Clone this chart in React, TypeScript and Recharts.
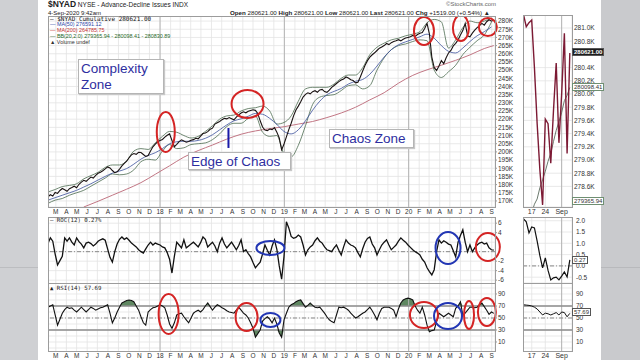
import React from "react";
import {
  Area,
  CartesianGrid,
  ComposedChart,
  Line,
  ReferenceDot,
  ReferenceLine,
  XAxis,
  YAxis,
} from "recharts";

// weekly readings, week 0 = 6 Feb 2017, values in thousands
const adLine = [
  172.5, 173.8, 173.0, 175.2, 174.6, 176.4, 177.6, 176.8, 175.9, 177.5,
  178.2, 179.0, 178.1, 180.2, 181.5, 182.6, 182.0, 183.4, 184.6, 184.0,
  185.6, 186.9, 187.6, 188.5, 189.6, 190.8, 190.2, 188.6, 187.3, 187.8,
  189.5, 191.4, 193.0, 194.3, 196.4, 198.2, 199.0, 198.5, 199.8, 199.6,
  198.4, 197.2, 197.8, 200.6, 203.1, 204.8, 206.2, 206.9, 207.6, 209.0,
  210.2, 211.0, 207.0, 203.2, 204.6, 206.3, 207.4, 206.6, 205.9, 206.4,
  207.1, 207.5, 208.3, 208.0, 209.6, 211.2, 211.6, 212.4, 213.8, 214.5,
  217.0, 217.8, 218.6, 219.7, 220.5, 220.2, 221.0, 220.3, 219.6, 221.2,
  222.6, 223.8, 224.5, 223.9, 224.8, 225.3, 225.8, 225.4, 223.5, 219.0,
  215.2, 213.4, 213.0, 214.0, 213.6, 214.8, 212.0, 208.6, 201.2, 204.8,
  209.2, 213.6, 217.5, 222.0, 225.6, 228.0, 230.6, 233.5, 235.2, 236.1,
  235.5, 236.8, 237.4, 236.5, 237.9, 238.2, 236.9, 236.4, 237.8, 239.5,
  240.6, 241.8, 243.0, 243.9, 244.6, 245.8, 245.2, 244.1, 243.6, 242.2,
  242.6, 245.8, 249.5, 253.0, 255.8, 257.9, 259.4, 260.6, 262.0, 263.4,
  264.2, 265.0, 266.3, 265.6, 266.8, 267.5, 268.0, 268.6, 267.9, 268.9,
  269.6, 270.0, 270.4, 271.2, 270.6, 271.8, 272.6, 273.0, 275.5, 278.6,
  272.0, 258.0, 251.5, 249.8, 252.5, 255.8, 254.0, 257.6, 260.5, 262.0,
  264.8, 266.4, 268.5, 271.5, 274.2, 278.6, 271.0, 270.4, 272.6, 274.4,
  276.0, 277.2, 278.6, 277.5, 279.6, 280.8, 279.9, 280.6,
];

const rocWeekly = [
  1.8, 2.9, 2.2, -0.5, -2.8, -1.9, -1.0, 2.9, 2.2, 2.9,
  2.0, 1.4, 2.9, 2.1, 1.6, 0.8, 1.8, 2.0, 1.7, 1.2,
  1.6, 2.2, 2.5, 2.7, 2.4, 0.6, -1.2, -2.2, 0.0, 1.6,
  2.6, 3.1, 2.6, 2.9, 2.4, 1.8, 1.4, 1.0, 0.4, 0.0,
  -0.3, 0.6, 1.4, 2.0, 1.4, 1.8, 1.6, 1.4, 1.0, 0.8,
  -0.2, -1.6, -4.5, -1.0, 2.0, 1.4, 0.8, 2.5, 0.8, 1.2,
  1.6, 2.0, 1.5, 1.0, 1.9, 3.1, 2.6, 1.0, 1.5, 2.0,
  1.2, 0.0, 1.8, 2.9, 1.6, 0.8, 1.4, 2.0, 1.2, 0.4,
  1.3, 2.5, 0.0, 0.4, -0.4, -1.1, -2.3, -3.4, -2.8, -2.2,
  -0.5, 1.4, 0.3, -0.7, 1.2, 2.5, 0.5, -3.0, -5.8, -1.0,
  6.3, 5.0, 3.2, 2.8, 3.0, 3.5, 3.1, 1.4, -0.7, 0.4,
  1.0, 1.4, 2.3, 2.9, 2.2, 1.8, 1.0, 0.4, 0.2, 0.0,
  0.8, 1.4, 0.3, -0.7, 1.0, 2.5, 1.8, 1.4, 1.2, 0.8,
  -0.2, -1.1, 0.6, 2.0, 2.8, 3.1, 1.6, 0.8, -0.7, 0.4,
  1.4, 2.0, 2.5, 1.4, 0.4, 0.9, 1.4, 2.2, 2.9, 2.4,
  2.0, 1.4, 0.9, 0.4, 0.0, -0.3, -0.7, -1.6, -2.2, -3.4,
  -4.2, -4.9, -3.8, 0.0, 2.5, 1.8, 2.3, 2.0, 1.6, 1.4,
  0.2, -1.1, 2.0, 3.4, 4.6, 2.0, 0.0, 1.4, 0.0, 0.8,
  1.4, 1.8, 2.0, 1.6, 1.8, 0.8, 0.4, 0.3,
];

const rsiWeekly = [
  68, 70, 72, 55, 38, 48, 58, 64, 68, 66,
  67, 63, 60, 64, 68, 64, 60, 64, 68, 66,
  63, 65, 67, 68, 70, 72, 58, 42, 50, 60,
  68, 75, 77, 79, 80, 79, 77, 70, 63, 52,
  42, 38, 60, 64, 67, 68, 70, 72, 70, 67,
  55, 40, 33, 42, 55, 57, 58, 52, 47, 42,
  50, 58, 61, 63, 60, 64, 70, 75, 69, 63,
  68, 72, 70, 67, 65, 62, 60, 59, 58, 63,
  68, 63, 58, 55, 50, 42, 33, 18, 24, 30,
  45, 49, 52, 48, 42, 50, 40, 25, 18, 47,
  58, 68, 72, 74, 77, 79, 80, 74, 68, 71,
  75, 71, 68, 67, 68, 63, 58, 52, 47, 44,
  42, 55, 68, 67, 68, 66, 63, 58, 54, 50,
  52, 55, 58, 60, 64, 68, 62, 55, 47, 58,
  66, 68, 68, 68, 66, 63, 52, 65, 75, 80,
  82, 83, 82, 80, 70, 63, 58, 68, 55, 38,
  27, 29, 30, 44, 58, 55, 52, 55, 58, 55,
  52, 66, 70, 77, 55, 58, 63, 68, 68, 67,
  68, 72, 75, 69, 63, 56, 60, 57.7,
];

// every third week
const ma50 = [
  170.5, 172.0, 173.5, 175.0, 176.5, 178.5, 180.5, 182.8, 185.0, 187.0,
  188.3, 189.8, 192.5, 195.6, 197.8, 199.5, 202.0, 205.0, 206.2, 206.5,
  206.5, 207.0, 208.3, 210.5, 213.5, 216.5, 219.0, 220.2, 221.8, 223.5,
  223.0, 220.5, 216.8, 212.5, 211.0, 213.5, 219.0, 225.5, 231.0, 235.0,
  237.0, 238.8, 241.5, 243.2, 244.3, 247.5, 252.5, 258.0, 262.5, 265.5,
  267.3, 268.8, 270.4, 272.0, 269.5, 265.0, 261.5, 260.5, 263.5, 267.5,
  271.0, 273.5, 276.4,
];
const bbUpper = [
  175.5, 177.0, 178.8, 179.5, 180.5, 183.5, 185.5, 187.5, 190.5, 192.0,
  192.0, 194.5, 200.5, 202.0, 201.5, 205.5, 209.5, 212.5, 212.0, 210.0,
  208.5, 209.5, 212.5, 216.0, 220.0, 222.0, 222.5, 225.0, 226.5, 227.0,
  228.0, 225.0, 217.0, 218.0, 222.0, 231.0, 238.5, 239.5, 239.5, 239.5,
  241.5, 245.0, 247.0, 247.0, 251.5, 259.5, 264.0, 266.5, 268.5, 269.5,
  271.0, 272.0, 273.5, 279.0, 281.0, 279.5, 263.5, 268.5, 276.0, 280.0,
  279.0, 280.0, 281.8,
];
const bbLower = [
  168.5, 170.5, 171.5, 173.5, 175.0, 176.5, 179.0, 181.5, 184.0, 186.5,
  186.0, 186.5, 189.0, 194.0, 195.5, 195.0, 200.5, 204.5, 202.0, 202.5,
  204.5, 205.0, 205.5, 207.5, 211.0, 215.5, 217.5, 217.5, 220.5, 222.0,
  212.0, 209.5, 210.0, 199.0, 197.0, 204.0, 216.0, 229.0, 233.5, 234.5,
  235.0, 237.5, 240.5, 241.0, 238.5, 240.5, 250.0, 257.5, 262.5, 265.0,
  266.0, 267.5, 268.5, 268.0, 250.0, 245.5, 249.0, 253.0, 259.5, 264.0,
  268.0, 271.5, 279.4,
];

const ma200Weeks = [
  15, 21, 27, 33, 39, 45, 51, 57, 63, 69, 75, 81, 87, 93, 99,
  105, 111, 117, 123, 129, 135, 141, 147, 153, 159, 165, 171, 177, 183, 187,
];
const ma200 = [
  166.3, 169.8, 173.5, 177.2, 181.2, 186.3, 191.5, 196.8, 200.8, 204.2,
  207.8, 210.8, 212.8, 214.2, 215.4, 217.0, 218.6, 221.0, 223.8, 227.3,
  231.8, 236.2, 242.0, 246.8, 250.2, 253.0, 256.0, 259.3, 263.2, 265.0,
];

// last trading days, 12 Aug - 4 Sep 2020
const recentClose = [
  281.2, 281.02, 281.08, 281.12, 280.4, 279.55, 278.85, 278.32, 279.62,
  279.55, 278.95, 279.75, 280.47, 279.26, 280.0, 280.92, 279.1, 280.62,
];
const recentMid = [
  277.85, 278.0, 278.08, 278.2, 278.33, 278.41, 278.58, 278.7, 278.83,
  278.98, 279.1, 279.28, 279.45, 279.58, 279.72, 279.9, 279.98, 280.1,
];
const recentRoc = [
  2.08, 1.95, 1.46, 1.72, 1.68, 1.1, 0.45, -0.09, 0.35,
  -0.2, -0.62, -0.53, -0.5, -0.62, -0.45, -0.27, -0.49, 0.27,
];
const recentRsi = [72, 71.5, 71, 70, 68, 65, 60, 55, 58, 57, 55, 57, 59, 55, 60, 59, 52, 57.7];
const recentTicks = [3, 8, 14];
const recentTickLabels = ["17", "24", "Sep"];

const monthLetters = ["J", "F", "M", "A", "M", "J", "J", "A", "S", "O", "N", "D"];
const mainTicks = [170, 175, 180, 185, 190, 195, 200, 205, 210, 215, 220, 225, 230, 235, 240, 245, 250, 255, 260, 265, 270, 275, 280];
const recentTicksY = [278.6, 278.8, 279.0, 279.2, 279.4, 279.6, 279.8, 280.0, 280.2, 280.4, 280.8, 281.0];

const START = Date.UTC(2017, 1, 6);
const WEEK = 7 * 24 * 3600 * 1000;
const monthTicks: { t: number; label: string }[] = [];
for (let y = 2017; y <= 2020; y++) {
  for (let m = 0; m < 12; m++) {
    if ((y === 2017 && m < 2) || (y === 2020 && m > 8)) continue;
    monthTicks.push({ t: (Date.UTC(y, m, 1) - START) / WEEK, label: m === 0 ? String(y).slice(2) : monthLetters[m] });
  }
}
const yearLines = monthTicks.filter((m) => /\d/.test(m.label)).map((m) => m.t);
const monthLabel = (t: number) => monthTicks.find((m) => Math.abs(m.t - t) < 0.01)?.label ?? "";

const adRows = adLine.map((v, i) => ({ t: i, v, roc: rocWeekly[i], rsi: rsiWeekly[i] }));
const ma50Rows = ma50.map((v, k) => ({ t: k * 3, v }));
const bbRows = bbUpper.map((up, k) => ({ t: k * 3, up, lo: bbLower[k] }));
const ma200Rows = ma200Weeks.map((t, k) => ({ t, v: ma200[k] }));
const recentRows = recentClose.map((v, d) => ({ t: d, v, mid: recentMid[d], roc: recentRoc[d], rsi: recentRsi[d] }));

const RED = "#d42424";
const BLUE = "#2236b4";
const mainRings = [
  { t: 49.4, v: 212.2, rx: 9, ry: 20, c: RED },
  { t: 83.7, v: 229.3, rx: 16, ry: 14, c: RED },
  { t: 157.7, v: 273.9, rx: 10, ry: 14, c: RED },
  { t: 173.2, v: 275.7, rx: 8, ry: 13, c: RED },
  { t: 184.5, v: 276.3, rx: 9, ry: 9, c: RED },
];
const rocRings = [
  { t: 93.3, v: 0.78, rx: 14, ry: 7, c: BLUE },
  { t: 167.8, v: 0.78, rx: 12.5, ry: 16, c: BLUE },
  { t: 184.5, v: 0.99, rx: 12, ry: 14, c: RED },
];
const rsiRings = [
  { t: 50.6, v: 56.7, rx: 10, ry: 20, c: RED },
  { t: 83.3, v: 51.7, rx: 11, ry: 14, c: RED },
  { t: 93.3, v: 46.7, rx: 10, ry: 7, c: BLUE },
  { t: 157.7, v: 55, rx: 14, ry: 13, c: RED },
  { t: 167.8, v: 53.3, rx: 14, ry: 13, c: BLUE },
  { t: 176.6, v: 55, rx: 5, ry: 14, c: RED },
  { t: 184.1, v: 60, rx: 9, ry: 14, c: RED },
];

const FONT = "'Liberation Sans', Arial, sans-serif";
const tick = { fontSize: 6.5, fill: "#333", fontFamily: FONT };
const noMargin = { top: 0, right: 0, bottom: 0, left: 0 };

const ring = (rx: number, ry: number, c: string) => (p: any) => (
  <ellipse cx={p.cx} cy={p.cy} rx={rx} ry={ry} fill="none" stroke={c} strokeWidth={2} />
);

const weekAxis = (hide: boolean) => (
  <XAxis
    type="number"
    dataKey="t"
    domain={[0, 187.5]}
    ticks={monthTicks.map((m) => m.t)}
    tickFormatter={monthLabel}
    interval={0}
    tick={tick}
    tickLine={false}
    axisLine={false}
    tickSize={1}
    tickMargin={1}
    height={hide ? 0 : 12}
    hide={hide}
    allowDataOverflow
  />
);

const dayAxis = (hide: boolean) => (
  <XAxis
    type="number"
    dataKey="t"
    domain={[-0.2, 17.8]}
    ticks={recentTicks}
    tickFormatter={(t: number) => recentTickLabels[recentTicks.indexOf(t)] ?? ""}
    interval={0}
    tick={{ ...tick, fontSize: 7 }}
    tickLine={false}
    axisLine={false}
    tickSize={1}
    tickMargin={1}
    height={hide ? 0 : 12}
    hide={hide}
    allowDataOverflow
  />
);

const Box = ({ l, t, w, h }: { l: number; t: number; w: number; h: number }) => (
  <div style={{ position: "absolute", left: l, top: t, width: w, height: h, border: "1px solid #9c9c9c", boxSizing: "border-box", pointerEvents: "none" }} />
);

const Note = ({ l, t, w, h, children }: any) => (
  <div
    style={{
      position: "absolute", left: l, top: t, width: w, height: h, boxSizing: "border-box",
      background: "#fff", border: "1px solid #b5b5b5", boxShadow: "1px 1px 1px #c8c8c8",
      color: "#2e2ea0", fontFamily: FONT, fontSize: 13.5, lineHeight: "16px", padding: "1px 2px",
    }}
  >
    {children}
  </div>
);

const ValueTag = ({ t, text, dark, border }: { t: number; text: string; dark?: boolean; border?: string }) => (
  <div
    style={{
      position: "absolute", left: 572, top: t - 4, height: 8, padding: "0 1px", boxSizing: "border-box",
      background: dark ? "#1d1d1d" : "#fff", color: dark ? "#fff" : "#333", border: `1px solid ${border ?? "#555"}`,
      fontFamily: FONT, fontSize: 6, lineHeight: "6px", fontWeight: dark ? 700 : 400,
    }}
  >
    {text}
  </div>
);

export default function App() {
  return (
    <div style={{ position: "absolute", left: 0, top: 0, width: 640, height: 360, background: "#fff", overflow: "hidden", fontFamily: FONT }}>
      <div style={{ position: "absolute", left: 0, top: 0, width: 38, height: 360, background: "#cfd0d3" }} />
      <div style={{ position: "absolute", left: 0, top: 267, width: 38, height: 1, background: "#bcbdc0" }} />
      <div style={{ position: "absolute", left: 601, top: 0, width: 39, height: 360, background: "#c9cacd" }} />
      <div style={{ position: "absolute", left: 601, top: 267, width: 39, height: 1, background: "#b8b9bc" }} />

      <div style={{ position: "absolute", left: 48, top: 0, fontSize: 6.5, lineHeight: "9px", color: "#222", whiteSpace: "nowrap" }}>
        <b style={{ fontSize: 8.5 }}>$NYAD</b> NYSE - Advance-Decline Issues INDX
      </div>
      <div style={{ position: "absolute", left: 48, top: 9.5, fontSize: 6, lineHeight: "6.5px", color: "#222" }}>4-Sep-2020 9:42am</div>
      <div style={{ position: "absolute", left: 446, top: 1, fontSize: 6, lineHeight: "7px", color: "#666" }}>©StockCharts.com</div>
      <div style={{ position: "absolute", right: 150, top: 9, fontSize: 6.2, lineHeight: "7px", color: "#222", whiteSpace: "nowrap" }}>
        <b>Open</b> 280621.00 <b>High</b> 280621.00 <b>Low</b> 280621.00 <b>Last</b> 280621.00 <b>Chg</b> +1519.00 (+0.54%) ▲
      </div>

      {/* price panel */}
      <div style={{ position: "absolute", left: 48, top: 16 }}>
        <ComposedChart width={482} height={203} margin={noMargin}>
          <CartesianGrid stroke="#e3e3e3" strokeWidth={0.8} />
          {weekAxis(false)}
          <YAxis orientation="right" type="number" domain={[166.3, 283.1]} ticks={mainTicks} tickFormatter={(v: number) => `${v}K`} interval={0} width={35} tick={tick} tickSize={2} tickMargin={1} axisLine={false} tickLine={{ stroke: "#999" }} allowDataOverflow />
          {yearLines.map((t) => <ReferenceLine key={t} x={t} stroke="#b4b4b4" />)}
          <Line data={ma200Rows} dataKey="v" type="monotone" stroke="#c27684" strokeWidth={1} dot={false} isAnimationActive={false} />
          <Line data={bbRows} dataKey="up" type="monotone" stroke="#4b6b4f" strokeWidth={0.8} dot={false} isAnimationActive={false} />
          <Line data={bbRows} dataKey="lo" type="monotone" stroke="#4b6b4f" strokeWidth={0.8} dot={false} isAnimationActive={false} />
          <Line data={ma50Rows} dataKey="v" type="monotone" stroke="#3a4f9a" strokeWidth={0.8} dot={false} isAnimationActive={false} />
          <Line data={adRows} dataKey="v" type="linear" stroke="#1a1212" strokeWidth={1.1} dot={false} isAnimationActive={false} />
          <ReferenceLine segment={[{ x: 75.7, y: 202.4 }, { x: 75.7, y: 214.6 }]} stroke="#1a1aa8" strokeWidth={2} />
          {mainRings.map((r, k) => <ReferenceDot key={k} x={r.t} y={r.v} shape={ring(r.rx, r.ry, r.c)} />)}
        </ComposedChart>
      </div>

      {/* ROC panel */}
      <div style={{ position: "absolute", left: 48, top: 217 }}>
        <ComposedChart width={482} height={66} margin={noMargin}>
          <CartesianGrid stroke="#e3e3e3" strokeWidth={0.8} horizontalValues={[-6, -4, -2, 0, 2, 4, 6]} />
          {weekAxis(true)}
          <YAxis orientation="right" type="number" domain={[-6.6, 7.3]} ticks={[6, 4, -2, -4, -6]} interval={0} width={35} tick={tick} tickSize={2} tickMargin={1} axisLine={false} tickLine={{ stroke: "#999" }} allowDataOverflow />
          {yearLines.map((t) => <ReferenceLine key={t} x={t} stroke="#b4b4b4" />)}
          <ReferenceLine y={0} stroke="#8a8a8a" strokeDasharray="4 2 1 2" />
          <Line data={adRows} dataKey="roc" type="linear" stroke="#111" strokeWidth={1.3} dot={false} isAnimationActive={false} />
          {rocRings.map((r, k) => <ReferenceDot key={k} x={r.t} y={r.v} shape={ring(r.rx, r.ry, r.c)} />)}
        </ComposedChart>
      </div>

      {/* RSI panel */}
      <div style={{ position: "absolute", left: 48, top: 283 }}>
        <ComposedChart width={482} height={80} margin={noMargin}>
          <CartesianGrid stroke="#e3e3e3" strokeWidth={0.8} horizontalValues={[0, 10, 20, 30, 40, 50, 60, 70, 80, 90, 100]} />
          {weekAxis(false)}
          <YAxis orientation="right" type="number" domain={[-5, 108.3]} ticks={[10, 30, 50, 70, 90]} interval={0} width={35} tick={tick} tickSize={2} tickMargin={1} axisLine={false} tickLine={{ stroke: "#999" }} allowDataOverflow />
          {yearLines.map((t) => <ReferenceLine key={t} x={t} stroke="#b4b4b4" />)}
          <Area data={adRows} dataKey={(d: any) => Math.max(d.rsi, 70)} baseValue={70} type="linear" stroke="none" fill="#4e7a50" fillOpacity={0.9} isAnimationActive={false} />
          <Area data={adRows} dataKey={(d: any) => Math.min(d.rsi, 30)} baseValue={30} type="linear" stroke="none" fill="#4e7a50" fillOpacity={0.9} isAnimationActive={false} />
          <ReferenceLine y={70} stroke="#8c8c8c" strokeWidth={1.5} />
          <ReferenceLine y={30} stroke="#8c8c8c" strokeWidth={1.5} />
          <ReferenceLine y={50} stroke="#8a8a8a" strokeDasharray="4 2 1 2" />
          <Line data={adRows} dataKey="rsi" type="linear" stroke="#111" strokeWidth={1.1} dot={false} isAnimationActive={false} />
          {rsiRings.map((r, k) => <ReferenceDot key={k} x={r.t} y={r.v} shape={ring(r.rx, r.ry, r.c)} />)}
        </ComposedChart>
      </div>

      {/* recent price panel */}
      <div style={{ position: "absolute", left: 523, top: 15 }}>
        <ComposedChart width={79} height={204} margin={noMargin}>
          <CartesianGrid stroke="#e3e3e3" strokeWidth={0.8} />
          {dayAxis(false)}
          <YAxis orientation="right" type="number" domain={[278.288, 281.197]} ticks={recentTicksY} tickFormatter={(v: number) => `${v.toFixed(1)}K`} interval={0} width={30} tick={tick} tickSize={0} tickMargin={2} axisLine={false} allowDataOverflow />
          <ReferenceLine x={14} stroke="#b4b4b4" />
          <Line data={recentRows} dataKey="mid" type="linear" stroke="#5a6a5c" strokeWidth={0.9} dot={false} isAnimationActive={false} />
          <Line data={recentRows} dataKey="v" type="linear" stroke="#7c1a34" strokeWidth={1.4} dot={false} isAnimationActive={false} />
        </ComposedChart>
      </div>

      {/* recent ROC */}
      <div style={{ position: "absolute", left: 523, top: 217 }}>
        <ComposedChart width={79} height={66} margin={noMargin}>
          <CartesianGrid stroke="#e3e3e3" strokeWidth={0.8} />
          {dayAxis(true)}
          <YAxis orientation="right" type="number" domain={[-0.757, 2.164]} ticks={[-0.5, 0, 0.5, 1, 1.5, 2]} tickFormatter={(v: number) => v.toFixed(1)} interval={0} width={30} tick={tick} tickSize={0} tickMargin={4} axisLine={false} allowDataOverflow />
          <ReferenceLine x={14} stroke="#b4b4b4" />
          <ReferenceLine y={0} stroke="#8a8a8a" strokeDasharray="4 2 1 2" />
          <Line data={recentRows} dataKey="roc" type="linear" stroke="#111" strokeWidth={1.2} dot={false} isAnimationActive={false} />
        </ComposedChart>
      </div>

      {/* recent RSI */}
      <div style={{ position: "absolute", left: 523, top: 283 }}>
        <ComposedChart width={79} height={80} margin={noMargin}>
          <CartesianGrid stroke="#e3e3e3" strokeWidth={0.8} horizontalValues={[0, 10, 20, 30, 40, 50, 60, 70, 80, 90, 100]} />
          {dayAxis(false)}
          <YAxis orientation="right" type="number" domain={[-5, 108.3]} ticks={[10, 30, 50, 70, 90]} interval={0} width={30} tick={tick} tickSize={0} tickMargin={4} axisLine={false} allowDataOverflow />
          <ReferenceLine x={14} stroke="#b4b4b4" />
          <ReferenceLine y={70} stroke="#8c8c8c" strokeWidth={1.5} />
          <ReferenceLine y={30} stroke="#8c8c8c" strokeWidth={1.5} />
          <ReferenceLine y={50} stroke="#8a8a8a" strokeDasharray="4 2 1 2" />
          <Line data={recentRows} dataKey="rsi" type="linear" stroke="#111" strokeWidth={1} dot={false} isAnimationActive={false} />
        </ComposedChart>
      </div>

      <Box l={48} t={16} w={448} h={192} />
      <Box l={48} t={217} w={448} h={67} />
      <Box l={48} t={283} w={448} h={69} />
      <Box l={523} t={15} w={50} h={193} />
      <Box l={523} t={217} w={50} h={67} />
      <Box l={523} t={283} w={50} h={69} />

      <div style={{ position: "absolute", left: 50, top: 16, lineHeight: "5.9px", fontSize: 5.4, whiteSpace: "nowrap" }}>
        <div style={{ fontFamily: "'DejaVu Sans Mono', monospace", fontSize: 6, color: "#111" }}>— $NYAD Cumulative 280621.00</div>
        <div style={{ color: "#2b45a8" }}>— MA(50) 276591.12</div>
        <div style={{ color: "#c43030" }}>— MA(200) 264785.75</div>
        <div style={{ color: "#2a6a2a" }}>— BB(20,2.0) 279365.94 - 280098.41 - 280830.89</div>
        <div style={{ color: "#333" }}>▲ Volume undef</div>
      </div>
      <div style={{ position: "absolute", left: 50, top: 217, fontFamily: "'DejaVu Sans Mono', monospace", fontSize: 5.7, color: "#222" }}>— ROC(12) 0.27%</div>
      <div style={{ position: "absolute", left: 50, top: 285, fontFamily: "'DejaVu Sans Mono', monospace", fontSize: 5.7, color: "#222" }}>▲ RSI(14) 57.69</div>

      <Note l={78} t={59} w={86} h={35}>Complexity<br />Zone</Note>
      <Note l={188} t={152} w={103} h={18}>Edge of Chaos</Note>
      <Note l={329} t={129} w={85} h={19}>Chaos Zone</Note>

      <ValueTag t={52} text="280621.00" dark />
      <ValueTag t={87} text="280098.41" border="#6f8f72" />
      <ValueTag t={201} text="279365.94" border="#6f8f72" />
      <ValueTag t={260} text="0.27" />
      <ValueTag t={312} text="57.69" />
    </div>
  );
}
